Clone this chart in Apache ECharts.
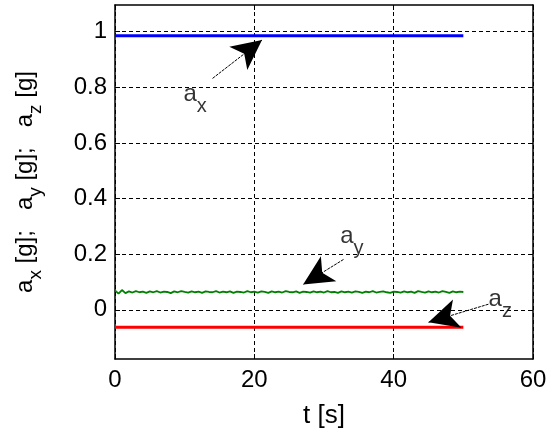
<!DOCTYPE html>
<html><head><meta charset="utf-8">
<script src="https://cdn.jsdelivr.net/npm/echarts@6/dist/echarts.min.js"></script>
<style>html,body{margin:0;padding:0;background:#fff}#c{width:555px;height:434px}</style>
</head><body><div id="c"></div>
<script>
// ---- data ----
const xTicks = [0, 20, 40, 60];
const yTicks = [0, 0.2, 0.4, 0.6, 0.8, 1];
const tBlue = [0, 50];
const axVals = [0.985, 0.985];
const tRed = [0, 1.5, 1.7, 1.9, 50];
const azVals = [-0.063, -0.063, -0.068, -0.063, -0.063];
const tGreen = [0,0.5,1,1.5,2,2.5,3,3.5,4,4.5,5,5.5,6,6.5,7,7.5,8,8.5,9,9.5,10,10.5,11,11.5,12,12.5,13,13.5,14,14.5,15,15.5,16,16.5,17,17.5,18,18.5,19,19.5,20,20.5,21,21.5,22,22.5,23,23.5,24,24.5,25,25.5,26,26.5,27,27.5,28,28.5,29,29.5,30,30.5,31,31.5,32,32.5,33,33.5,34,34.5,35,35.5,36,36.5,37,37.5,38,38.5,39,39.5,40,40.5,41,41.5,42,42.5,43,43.5,44,44.5,45,45.5,46,46.5,47,47.5,48,48.5,49,49.5,50];
const ayVals = [0.070,0.058,0.071,0.060,0.066,0.062,0.067,0.063,0.065,0.061,
0.066,0.063,0.067,0.062,0.065,0.064,0.060,0.066,0.063,0.067,
0.064,0.062,0.066,0.063,0.065,0.061,0.066,0.064,0.063,0.067,
0.062,0.065,0.063,0.066,0.061,0.065,0.064,0.062,0.067,0.063,
0.065,0.062,0.066,0.064,0.061,0.066,0.063,0.065,0.062,0.067,
0.064,0.063,0.066,0.061,0.065,0.064,0.062,0.066,0.063,0.065,
0.062,0.067,0.063,0.064,0.061,0.066,0.063,0.065,0.062,0.066,
0.064,0.061,0.065,0.063,0.067,0.062,0.064,0.066,0.063,0.061,
0.065,0.064,0.062,0.066,0.063,0.065,0.061,0.067,0.064,0.062,
0.066,0.063,0.065,0.062,0.067,0.064,0.061,0.066,0.063,0.065,0.064];
// annotations: subscript letter, label position, arrow tail, arrow head (data units)
const annSub = ['x', 'y', 'z'];
const annLabel = [[11.5, 0.755], [34.0, 0.245], [55.3, 0.018]];
const annTail = [[14.0, 0.832], [32.8, 0.181], [53.6, 0.020]];
const annHead = [[21.1, 0.970], [27.0, 0.091], [45.0, -0.045]];

const xMin = 0, xMax = 60, yMin = -0.177, yMax = 1.096;
const FONT = '"Liberation Sans", Arial, sans-serif';

const chart = echarts.init(document.getElementById('c'), null, {renderer: 'canvas'});
const zip = (a, b) => a.map((v, i) => [v, b[i]]);

function axisCommon(isY) {
  return {
    axisLine: {show: true, onZero: false, lineStyle: {color: '#000', width: 1.5}},
    axisTick: {show: true, inside: true, length: 5, lineStyle: {color: '#000', width: 1},
      customValues: isY ? yTicks : xTicks},
  };
}

const option = {
  animation: false,
  backgroundColor: '#fff',
  grid: {left: 115, top: 5, right: 22, bottom: 74, containLabel: false},
  xAxis: [
    Object.assign({type: 'value', position: 'bottom', min: xMin, max: xMax,
      axisLabel: {show: true, customValues: xTicks, margin: 9, color: '#000', fontSize: 24, fontFamily: FONT},
      splitLine: {show: true, lineStyle: {color: '#000', type: [4, 3], width: 1}},
      name: 't [s]', nameLocation: 'middle', nameGap: 44,
      nameTextStyle: {color: '#000', fontSize: 26, fontFamily: FONT}}, axisCommon(false)),
    Object.assign({type: 'value', position: 'top', min: xMin, max: xMax,
      axisLabel: {show: false}, splitLine: {show: false}}, axisCommon(false))
  ],
  yAxis: [
    Object.assign({type: 'value', position: 'left', min: yMin, max: yMax,
      axisLabel: {show: true, customValues: yTicks, margin: 8, color: '#000', fontSize: 24, fontFamily: FONT},
      splitLine: {show: true, lineStyle: {color: '#000', type: [4, 3], width: 1}},
      name: '{n|a}{s|x}{n| [g];   a}{s|y}{n| [g];   a}{s|z}{n| [g]}',
      nameLocation: 'middle', nameRotate: 90, nameGap: 70,
      nameTextStyle: {color: '#000', fontFamily: FONT,
        rich: {
          n: {fontSize: 24, fontFamily: FONT, color: '#000', verticalAlign: 'top'},
          s: {fontSize: 19, fontFamily: FONT, color: '#000', verticalAlign: 'top', padding: [13, 0, 0, 0]}
        }}}, axisCommon(true)),
    Object.assign({type: 'value', position: 'right', min: yMin, max: yMax,
      axisLabel: {show: false}, splitLine: {show: false}}, axisCommon(true))
  ],
  series: [
    {type: 'line', data: zip(tBlue, axVals), showSymbol: false, lineStyle: {color: '#0000ff', width: 3}, z: 3,
      markLine: {silent: true, symbol: ['none', 'arrow'], symbolSize: [22, 30], label: {show: false},
        lineStyle: {color: '#000', width: 1, type: [3, 1]},
        data: annTail.map((t, i) => [{coord: t}, {coord: annHead[i]}])}},
    {type: 'line', data: zip(tGreen, ayVals), showSymbol: false, lineStyle: {color: '#008000', width: 1.8}, z: 3},
    {type: 'line', data: zip(tRed, azVals), showSymbol: false, lineStyle: {color: '#ff0000', width: 3}, z: 3},
    {type: 'scatter', data: annLabel, symbolSize: 0, silent: true, z: 5,
      label: {show: true, position: 'inside', color: '#000',
        formatter: p => '{n|a}{s|' + annSub[p.dataIndex] + '}',
        rich: {
          n: {fontSize: 24, fontFamily: FONT, color: '#000', verticalAlign: 'top'},
          s: {fontSize: 20, fontFamily: FONT, color: '#000', verticalAlign: 'top', padding: [14, 0, 0, 0]}
        }}}
  ]
};
chart.setOption(option);
</script></body></html>
